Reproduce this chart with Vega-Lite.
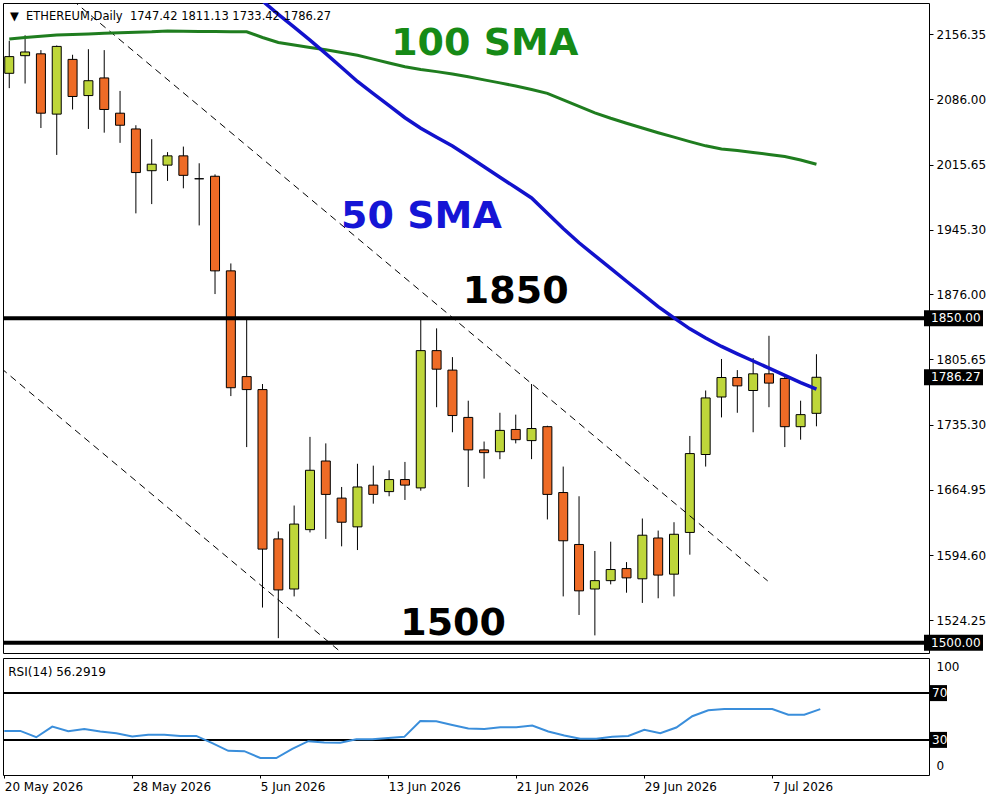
{
  "$schema": "https://vega.github.io/schema/vega-lite/v6.json",
  "description": "Ethereum daily candles with 50 and 100 SMA, key levels and RSI(14)",
  "background": "white",
  "autosize": {"type": "pad"},
  "padding": {"left": 2, "top": 2, "right": 5, "bottom": 5},
  "spacing": 3,
  "config": {
    "view": {"stroke": "black", "strokeWidth": 1},
    "text": {"font": "DejaVu Sans"},
    "axis": {
      "labelFont": "DejaVu Sans",
      "labelFontSize": 12,
      "labelColor": "black",
      "tickColor": "black",
      "domain": false,
      "grid": false,
      "labelOverlap": false
    }
  },
  "datasets": {
    "bars": [
      {"date": "2026-05-20", "open": 2114, "high": 2149, "low": 2098, "close": 2132, "sma100": 2151.0, "sma50": null, "rsi": 37.7},
      {"date": "2026-05-21", "open": 2133, "high": 2155, "low": 2103, "close": 2137, "sma100": 2152.6, "sma50": null, "rsi": 37.7},
      {"date": "2026-05-22", "open": 2135, "high": 2139, "low": 2055, "close": 2071, "sma100": 2154.0, "sma50": null, "rsi": 32.3},
      {"date": "2026-05-23", "open": 2070, "high": 2144, "low": 2026, "close": 2143, "sma100": 2155.3, "sma50": null, "rsi": 41.4},
      {"date": "2026-05-24", "open": 2129, "high": 2134, "low": 2075, "close": 2089, "sma100": 2155.8, "sma50": null, "rsi": 37.4},
      {"date": "2026-05-25", "open": 2090, "high": 2140, "low": 2054, "close": 2106, "sma100": 2156.4, "sma50": null, "rsi": 39.4},
      {"date": "2026-05-26", "open": 2109, "high": 2139, "low": 2050, "close": 2075, "sma100": 2157.1, "sma50": null, "rsi": 37.2},
      {"date": "2026-05-27", "open": 2071, "high": 2095, "low": 2039, "close": 2058, "sma100": 2157.6, "sma50": null, "rsi": 35.7},
      {"date": "2026-05-28", "open": 2054, "high": 2058, "low": 1963, "close": 2007, "sma100": 2158.3, "sma50": null, "rsi": 32.9},
      {"date": "2026-05-29", "open": 2009, "high": 2043, "low": 1973, "close": 2016, "sma100": 2158.7, "sma50": null, "rsi": 34.3},
      {"date": "2026-05-30", "open": 2015, "high": 2029, "low": 1998, "close": 2025, "sma100": 2159.5, "sma50": null, "rsi": 34.3},
      {"date": "2026-05-31", "open": 2025, "high": 2035, "low": 1990, "close": 2004, "sma100": 2159.4, "sma50": null, "rsi": 33.4},
      {"date": "2026-06-01", "open": 2000.3, "high": 2017, "low": 1950, "close": 2000.3, "sma100": 2159.2, "sma50": null, "rsi": 33.4},
      {"date": "2026-06-02", "open": 2003, "high": 2005, "low": 1876, "close": 1901, "sma100": 2159.0, "sma50": null, "rsi": 27.2},
      {"date": "2026-06-03", "open": 1901, "high": 1909, "low": 1766, "close": 1775, "sma100": 2158.9, "sma50": null, "rsi": 20.7},
      {"date": "2026-06-04", "open": 1787, "high": 1849, "low": 1711, "close": 1773, "sma100": 2158.7, "sma50": 2205.5, "rsi": 20.4},
      {"date": "2026-06-05", "open": 1773, "high": 1779, "low": 1538, "close": 1601, "sma100": 2152.6, "sma50": 2192.0, "rsi": 14.5},
      {"date": "2026-06-06", "open": 1612, "high": 1620, "low": 1505, "close": 1557, "sma100": 2147.2, "sma50": 2177.6, "rsi": 14.5},
      {"date": "2026-06-07", "open": 1558, "high": 1648, "low": 1550, "close": 1628, "sma100": 2144.5, "sma50": 2163.7, "rsi": 22.4},
      {"date": "2026-06-08", "open": 1622, "high": 1722, "low": 1619, "close": 1686, "sma100": 2141.9, "sma50": 2149.7, "rsi": 28.9},
      {"date": "2026-06-09", "open": 1696, "high": 1715, "low": 1612, "close": 1660, "sma100": 2139.3, "sma50": 2135.2, "rsi": 27.8},
      {"date": "2026-06-10", "open": 1656, "high": 1668, "low": 1604, "close": 1630, "sma100": 2136.5, "sma50": 2120.2, "rsi": 27.5},
      {"date": "2026-06-11", "open": 1625, "high": 1693, "low": 1600, "close": 1668, "sma100": 2133.4, "sma50": 2105.2, "rsi": 30.6},
      {"date": "2026-06-12", "open": 1670, "high": 1691, "low": 1650, "close": 1660, "sma100": 2129.3, "sma50": 2092.2, "rsi": 30.6},
      {"date": "2026-06-13", "open": 1663, "high": 1686, "low": 1658, "close": 1676, "sma100": 2125.1, "sma50": 2079.2, "rsi": 31.7},
      {"date": "2026-06-14", "open": 1676, "high": 1695, "low": 1654, "close": 1670, "sma100": 2121.0, "sma50": 2066.1, "rsi": 32.6},
      {"date": "2026-06-15", "open": 1667, "high": 1849, "low": 1664, "close": 1815, "sma100": 2118.2, "sma50": 2054.7, "rsi": 46.2},
      {"date": "2026-06-16", "open": 1815, "high": 1839, "low": 1754, "close": 1795, "sma100": 2115.8, "sma50": 2045.1, "rsi": 46.0},
      {"date": "2026-06-17", "open": 1794, "high": 1808, "low": 1727, "close": 1745, "sma100": 2113.3, "sma50": 2035.6, "rsi": 42.8},
      {"date": "2026-06-18", "open": 1743, "high": 1761, "low": 1668, "close": 1708, "sma100": 2110.2, "sma50": 2024.6, "rsi": 39.7},
      {"date": "2026-06-19", "open": 1708, "high": 1717, "low": 1677, "close": 1705, "sma100": 2106.9, "sma50": 2013.3, "rsi": 39.4},
      {"date": "2026-06-20", "open": 1706, "high": 1748, "low": 1698, "close": 1729, "sma100": 2103.7, "sma50": 2002.0, "rsi": 40.9},
      {"date": "2026-06-21", "open": 1730, "high": 1746, "low": 1715, "close": 1719, "sma100": 2100.3, "sma50": 1990.8, "rsi": 40.9},
      {"date": "2026-06-22", "open": 1718, "high": 1779, "low": 1698, "close": 1731, "sma100": 2096.5, "sma50": 1979.6, "rsi": 42.3},
      {"date": "2026-06-23", "open": 1733, "high": 1734, "low": 1633, "close": 1660, "sma100": 2092.4, "sma50": 1963.1, "rsi": 37.2},
      {"date": "2026-06-24", "open": 1662, "high": 1690, "low": 1550, "close": 1610, "sma100": 2085.4, "sma50": 1946.7, "rsi": 33.8},
      {"date": "2026-06-25", "open": 1606, "high": 1658, "low": 1530, "close": 1556, "sma100": 2078.4, "sma50": 1931.3, "rsi": 30.9},
      {"date": "2026-06-26", "open": 1558, "high": 1599, "low": 1508, "close": 1567, "sma100": 2071.4, "sma50": 1917.4, "rsi": 30.9},
      {"date": "2026-06-27", "open": 1567, "high": 1609, "low": 1563, "close": 1579, "sma100": 2065.5, "sma50": 1903.6, "rsi": 32.6},
      {"date": "2026-06-28", "open": 1580, "high": 1587, "low": 1554, "close": 1570, "sma100": 2060.2, "sma50": 1889.8, "rsi": 33.4},
      {"date": "2026-06-29", "open": 1569, "high": 1634, "low": 1543, "close": 1616, "sma100": 2055.0, "sma50": 1876.1, "rsi": 38.6},
      {"date": "2026-06-30", "open": 1613, "high": 1621, "low": 1548, "close": 1573, "sma100": 2049.9, "sma50": 1862.5, "rsi": 35.7},
      {"date": "2026-07-01", "open": 1574, "high": 1630, "low": 1550, "close": 1617, "sma100": 2045.2, "sma50": 1850.3, "rsi": 40.6},
      {"date": "2026-07-02", "open": 1619, "high": 1723, "low": 1595, "close": 1704, "sma100": 2040.4, "sma50": 1838.5, "rsi": 50.2},
      {"date": "2026-07-03", "open": 1703, "high": 1772, "low": 1690, "close": 1764, "sma100": 2035.8, "sma50": 1828.7, "rsi": 55.3},
      {"date": "2026-07-04", "open": 1765, "high": 1806, "low": 1743, "close": 1786, "sma100": 2032.3, "sma50": 1819.5, "rsi": 56.4},
      {"date": "2026-07-05", "open": 1786, "high": 1794, "low": 1748, "close": 1777, "sma100": 2030.8, "sma50": 1811.5, "rsi": 56.4},
      {"date": "2026-07-06", "open": 1772, "high": 1807, "low": 1727, "close": 1790, "sma100": 2028.6, "sma50": 1803.8, "rsi": 56.4},
      {"date": "2026-07-07", "open": 1790, "high": 1831, "low": 1754, "close": 1780, "sma100": 2026.5, "sma50": 1796.2, "rsi": 56.4},
      {"date": "2026-07-08", "open": 1785, "high": 1788, "low": 1711, "close": 1733, "sma100": 2024.2, "sma50": 1788.3, "rsi": 51.6},
      {"date": "2026-07-09", "open": 1733, "high": 1761, "low": 1719, "close": 1746, "sma100": 2020.5, "sma50": 1780.6, "rsi": 51.6},
      {"date": "2026-07-10", "open": 1747.42, "high": 1811.13, "low": 1733.42, "close": 1786.27, "sma100": 2015.9, "sma50": 1773.6, "rsi": 56.29}
    ],
    "channels": [
      {"line": "upper", "date": "2026-05-24T00:00:00Z", "price": 2192.8},
      {"line": "upper", "date": "2026-07-06T22:05:00Z", "price": 1566.7},
      {"line": "lower", "date": "2026-05-19T12:00:00Z", "price": 1795.8},
      {"line": "lower", "date": "2026-06-11T00:00:00Z", "price": 1475.0}
    ],
    "levels": [{"level": 1850}, {"level": 1500}],
    "notes": [
      {"label": "100 SMA", "date": "2026-06-19T01:00:00Z", "price": 2133.7},
      {"label": "50 SMA", "date": "2026-06-15T01:00:00Z", "price": 1947.5},
      {"label": "1850", "date": "2026-06-21T00:00:00Z", "price": 1866.7},
      {"label": "1500", "date": "2026-06-17T01:00:00Z", "price": 1508.2}
    ],
    "header": [
      {"text": "▼\u00a0\u00a0ETHEREUM,Daily\u00a0\u00a01747.42 1811.13 1733.42 1786.27", "date": "2026-05-20T01:00:00Z", "price": 2171.1}
    ],
    "tags": [
      {"price": 1850, "tag": "1850.00"},
      {"price": 1786.27, "tag": "1786.27"},
      {"price": 1500, "tag": "1500.00"}
    ],
    "rsiLevels": [{"level": 70, "tag": "70"}, {"level": 30, "tag": "30"}],
    "rsiHeader": [{"text": "RSI(14) 56.2919", "date": "2026-05-20T06:00:00Z", "rsi": 84.9}]
  },
  "vconcat": [
    {
      "width": 926,
      "height": 650,
      "layer": [
        {
          "data": {"name": "bars"},
          "mark": {"type": "rule", "color": "black", "strokeWidth": 1, "clip": true},
          "encoding": {
            "x": {"field": "date", "type": "temporal", "axis": null, "title": null,
                  "scale": {"type": "utc", "domain": [{"year": 2026, "month": 5, "date": 19, "hours": 22, "minutes": 5, "utc": true}, {"year": 2026, "month": 7, "date": 16, "hours": 19, "minutes": 5, "utc": true}]}},
            "y": {"field": "low", "type": "quantitative", "title": null,
                  "scale": {"domain": [1489.0, 2189.8], "nice": false, "zero": false},
                  "axis": {"orient": "right", "values": [2156.35, 2086.0, 2015.65, 1945.3, 1876.0, 1805.65, 1735.3, 1664.95, 1594.6, 1524.25], "format": ".2f", "tickSize": 4, "labelPadding": 3, "title": null}},
            "y2": {"field": "high"}
          }
        },
        {
          "data": {"name": "bars"},
          "mark": {"type": "bar", "size": 9, "stroke": "black", "strokeWidth": 1, "clip": true},
          "encoding": {
            "x": {"field": "date", "type": "temporal", "axis": null, "title": null},
            "y": {"field": "open", "type": "quantitative", "title": null},
            "y2": {"field": "close"},
            "fill": {
              "condition": [
                {"test": "datum.close > datum.open", "value": "#BED63A"},
                {"test": "datum.close < datum.open", "value": "#EE6B26"}
              ],
              "value": "black"
            }
          }
        },
        {
          "data": {"name": "channels"},
          "mark": {"type": "line", "color": "black", "strokeWidth": 1, "strokeDash": [7, 5], "clip": true},
          "encoding": {
            "x": {"field": "date", "type": "temporal", "axis": null, "title": null},
            "y": {"field": "price", "type": "quantitative", "title": null},
            "detail": {"field": "line"}
          }
        },
        {
          "data": {"name": "levels"},
          "mark": {"type": "rule", "color": "black", "strokeWidth": 4, "clip": true},
          "encoding": {
            "y": {"field": "level", "type": "quantitative", "title": null}
          }
        },
        {
          "data": {"name": "bars"},
          "mark": {"type": "line", "color": "#1F7D1F", "strokeWidth": 3, "clip": true},
          "encoding": {
            "x": {"field": "date", "type": "temporal", "axis": null, "title": null},
            "y": {"field": "sma100", "type": "quantitative", "title": null}
          }
        },
        {
          "data": {"name": "bars"},
          "mark": {"type": "line", "color": "#1212CC", "strokeWidth": 3.5, "clip": true},
          "encoding": {
            "x": {"field": "date", "type": "temporal", "axis": null, "title": null},
            "y": {"field": "sma50", "type": "quantitative", "title": null}
          }
        },
        {
          "data": {"name": "notes"},
          "mark": {"type": "text", "font": "DejaVu Sans", "fontWeight": "bold", "fontSize": 38, "align": "center", "baseline": "alphabetic"},
          "encoding": {
            "x": {"field": "date", "type": "temporal", "axis": null, "title": null},
            "y": {"field": "price", "type": "quantitative", "title": null},
            "text": {"field": "label"},
            "color": {"field": "label", "type": "nominal", "legend": null,
                      "scale": {"domain": ["100 SMA", "50 SMA", "1850", "1500"], "range": ["#168A16", "#1515D5", "black", "black"]}}
          }
        },
        {
          "data": {"name": "header"},
          "mark": {"type": "text", "font": "DejaVu Sans", "fontSize": 11.5, "align": "left", "baseline": "alphabetic", "color": "black"},
          "encoding": {
            "x": {"field": "date", "type": "temporal", "axis": null, "title": null},
            "y": {"field": "price", "type": "quantitative", "title": null},
            "text": {"field": "text"}
          }
        },
        {
          "data": {"name": "tags"},
          "mark": {"type": "rect", "color": "black", "x2Offset": 59, "yOffset": -8, "y2Offset": 8},
          "encoding": {
            "x": {"datum": {"year": 2026, "month": 7, "date": 16, "hours": 19, "minutes": 5, "utc": true}, "type": "temporal", "axis": null, "title": null},
            "x2": {"datum": {"year": 2026, "month": 7, "date": 16, "hours": 19, "minutes": 5, "utc": true}},
            "y": {"field": "price", "type": "quantitative", "title": null},
            "y2": {"field": "price"}
          }
        },
        {
          "data": {"name": "tags"},
          "mark": {"type": "text", "font": "DejaVu Sans", "fontSize": 12, "align": "left", "baseline": "middle", "color": "white", "dx": 7},
          "encoding": {
            "x": {"datum": {"year": 2026, "month": 7, "date": 16, "hours": 19, "minutes": 5, "utc": true}, "type": "temporal", "axis": null, "title": null},
            "y": {"field": "price", "type": "quantitative", "title": null},
            "text": {"field": "tag"}
          }
        }
      ]
    },
    {
      "width": 926,
      "height": 117,
      "layer": [
        {
          "data": {"name": "rsiLevels"},
          "mark": {"type": "rule", "color": "black", "strokeWidth": 2, "clip": true},
          "encoding": {
            "y": {"field": "level", "type": "quantitative", "title": null,
                  "scale": {"domain": [0, 100], "nice": false},
                  "axis": {"orient": "right", "values": [100, 0], "ticks": false, "labelPadding": 7, "title": null,
                           "labelOffset": {"condition": {"test": "datum.value == 100", "value": 8}, "value": -10}}}
          }
        },
        {
          "data": {"name": "bars"},
          "mark": {"type": "line", "color": "#3A8EDB", "strokeWidth": 2, "clip": true},
          "encoding": {
            "x": {"field": "date", "type": "temporal", "title": null,
                  "scale": {"type": "utc", "domain": [{"year": 2026, "month": 5, "date": 19, "hours": 22, "minutes": 5, "utc": true}, {"year": 2026, "month": 7, "date": 16, "hours": 19, "minutes": 5, "utc": true}]},
                  "axis": {"orient": "bottom", "format": "%-d %b %Y", "labelAlign": "left", "tickSize": 3, "labelPadding": 3, "title": null,
                           "values": [
                             {"year": 2026, "month": 5, "date": 20, "utc": true},
                             {"year": 2026, "month": 5, "date": 28, "utc": true},
                             {"year": 2026, "month": 6, "date": 5, "utc": true},
                             {"year": 2026, "month": 6, "date": 13, "utc": true},
                             {"year": 2026, "month": 6, "date": 21, "utc": true},
                             {"year": 2026, "month": 6, "date": 29, "utc": true},
                             {"year": 2026, "month": 7, "date": 7, "utc": true}
                           ]}},
            "y": {"field": "rsi", "type": "quantitative", "title": null}
          }
        },
        {
          "data": {"name": "rsiHeader"},
          "mark": {"type": "text", "font": "DejaVu Sans", "fontSize": 12, "align": "left", "baseline": "alphabetic", "color": "black"},
          "encoding": {
            "x": {"field": "date", "type": "temporal", "title": null},
            "y": {"field": "rsi", "type": "quantitative", "title": null},
            "text": {"field": "text"}
          }
        },
        {
          "data": {"name": "rsiLevels"},
          "mark": {"type": "rect", "color": "black", "x2Offset": 18, "yOffset": -8, "y2Offset": 8},
          "encoding": {
            "x": {"datum": {"year": 2026, "month": 7, "date": 16, "hours": 19, "minutes": 5, "utc": true}, "type": "temporal", "title": null},
            "x2": {"datum": {"year": 2026, "month": 7, "date": 16, "hours": 19, "minutes": 5, "utc": true}},
            "y": {"field": "level", "type": "quantitative", "title": null},
            "y2": {"field": "level"}
          }
        },
        {
          "data": {"name": "rsiLevels"},
          "mark": {"type": "text", "font": "DejaVu Sans", "fontSize": 12, "align": "left", "baseline": "middle", "color": "white", "dx": 3},
          "encoding": {
            "x": {"datum": {"year": 2026, "month": 7, "date": 16, "hours": 19, "minutes": 5, "utc": true}, "type": "temporal", "title": null},
            "y": {"field": "level", "type": "quantitative", "title": null},
            "text": {"field": "tag"}
          }
        }
      ]
    }
  ]
}
